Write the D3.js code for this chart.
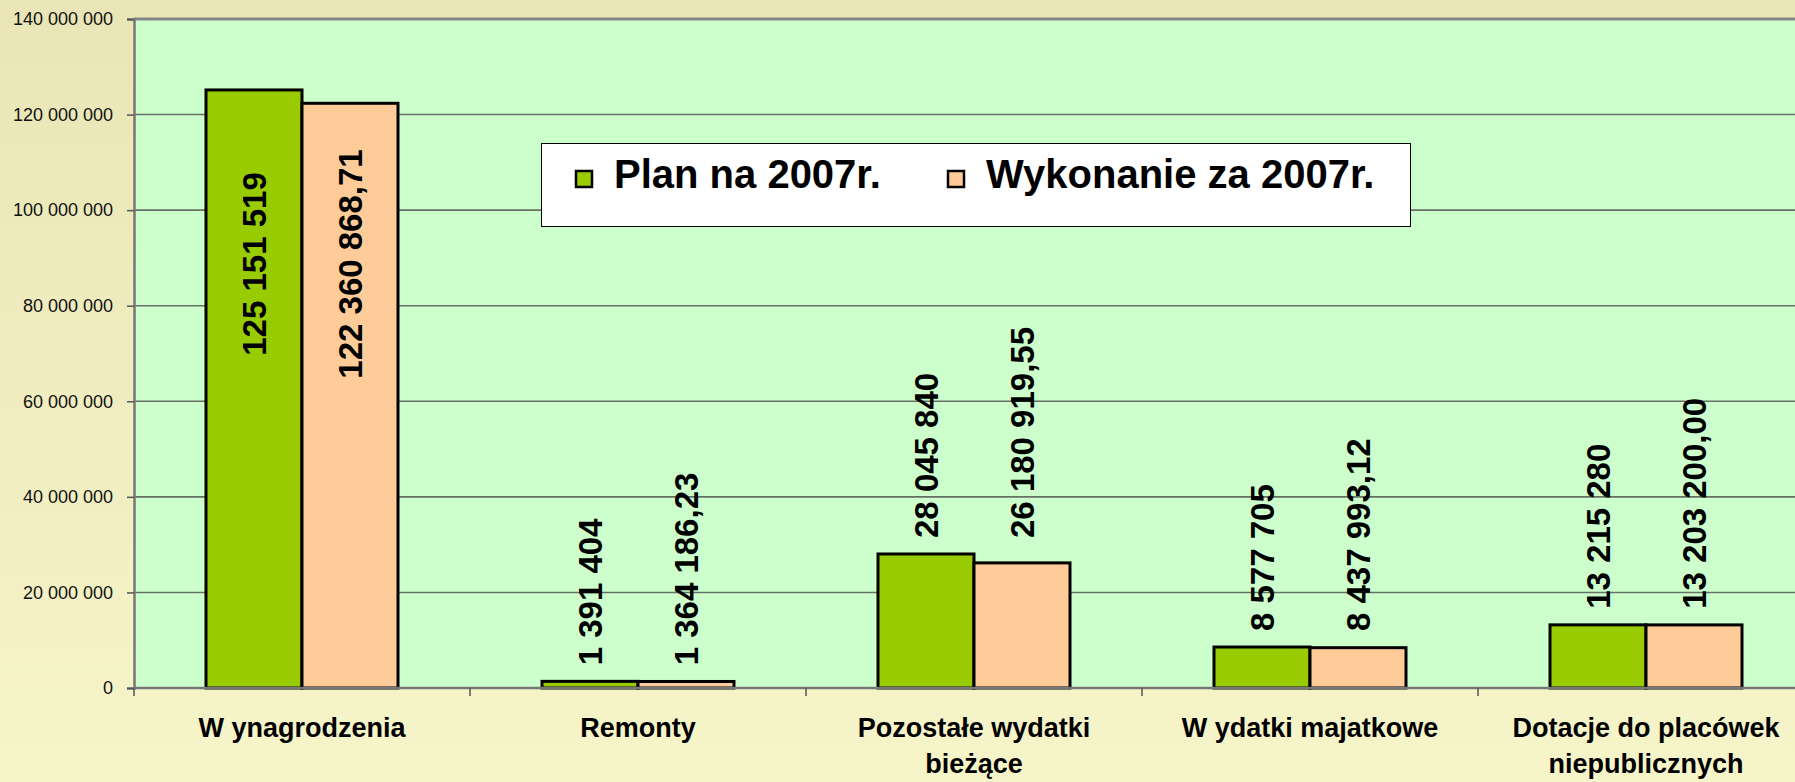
<!DOCTYPE html>
<html>
<head>
<meta charset="utf-8">
<script src="https://cdn.jsdelivr.net/npm/d3@7"></script>
<style>
body { margin: 0; overflow: hidden; }
text { font-family: Arial, "Liberation Sans", sans-serif; }
</style>
</head>
<body>
<script>
// chart data
var categories = ['W ynagrodzenia', 'Remonty', 'Pozostałe wydatki bieżące', 'W ydatki majatkowe', 'Dotacje do placówek niepublicznych']
var categoryLines = [['W ynagrodzenia'], ['Remonty'], ['Pozostałe wydatki', 'bieżące'], ['W ydatki majatkowe'], ['Dotacje do placówek', 'niepublicznych']]
var seriesNames = ['Plan na 2007r.', 'Wykonanie za 2007r.']
var planValues = [125151519, 1391404, 28045840, 8577705, 13215280]
var wykonanieValues = [122360868.71, 1364186.23, 26180919.55, 8437993.12, 13203200.00]
var yTicks = [0, 20000000, 40000000, 60000000, 80000000, 100000000, 120000000, 140000000]

var width = 1795
var height = 782
var plot = {left: 134, top: 19, bottom: 688, right: 1814}
var colors = ['#99cc00', '#ffcc99']

var pl = d3.formatLocale({decimal: ',', thousands: '\u00a0', grouping: [3], currency: ['', '']})
var fmtInt = pl.format(',.0f')
var fmtDec = pl.format(',.2f')

var svg = d3.select('body').append('svg')
	.attr('width', width)
	.attr('height', height)

// background gradient
var grad = svg.append('defs').append('linearGradient')
	.attr('id', 'bg')
	.attr('x1', 0).attr('y1', 0).attr('x2', 0).attr('y2', 1)
grad.append('stop').attr('offset', '0%').attr('stop-color', '#e9e5b6')
grad.append('stop').attr('offset', '100%').attr('stop-color', '#f6f5c9')

svg.append('rect')
	.attr('width', width)
	.attr('height', height)
	.attr('fill', 'url(#bg)')

var y = d3.scaleLinear()
	.domain([0, 140000000])
	.range([plot.bottom, plot.top])

var x = d3.scaleBand()
	.domain(categories)
	.range([plot.left, plot.right])

var xInner = d3.scaleBand()
	.domain([0, 1])
	.range([0, x.bandwidth()])
	.paddingOuter(0.75)

// plot area
svg.append('rect')
	.attr('x', plot.left)
	.attr('y', plot.top)
	.attr('width', plot.right - plot.left)
	.attr('height', plot.bottom - plot.top)
	.attr('fill', '#ccffcc')

// gridlines
svg.append('g').selectAll('line')
	.data(yTicks.slice(1, -1))
	.enter().append('line')
		.attr('x1', plot.left)
		.attr('x2', plot.right)
		.attr('y1', function(d) { return y(d) })
		.attr('y2', function(d) { return y(d) })
		.attr('stroke', '#667066')
		.attr('stroke-width', 1.6)

// top border of plot
svg.append('line')
	.attr('x1', plot.left).attr('x2', plot.right)
	.attr('y1', plot.top).attr('y2', plot.top)
	.attr('stroke', '#858585')
	.attr('stroke-width', 3)

// y axis
var yAxis = svg.append('g')
	.attr('transform', 'translate(' + plot.left + ',0)')
	.call(d3.axisLeft(y).tickValues(yTicks).tickSize(7).tickPadding(14).tickFormat(fmtInt))
yAxis.select('.domain').attr('stroke', '#777').attr('stroke-width', 2.5)
yAxis.selectAll('.tick line').attr('stroke', '#555').attr('stroke-width', 1.5)
yAxis.selectAll('.tick text')
	.attr('font-size', 18)
	.attr('fill', '#111')
	.style('font-family', 'Arial, "Liberation Sans", sans-serif')

// bars
var rows = categories.map(function(c, i) { return {cat: c, values: [planValues[i], wykonanieValues[i]]} })

var groups = svg.append('g').selectAll('g')
	.data(rows)
	.enter().append('g')
		.attr('transform', function(d) { return 'translate(' + x(d.cat) + ',0)' })

groups.selectAll('rect')
	.data(function(d) { return d.values })
	.enter().append('rect')
		.attr('x', function(d, i) { return xInner(i) })
		.attr('y', function(d) { return y(d) })
		.attr('width', xInner.bandwidth())
		.attr('height', function(d) { return y(0) - y(d) })
		.attr('fill', function(d, i) { return colors[i] })
		.attr('stroke', '#000')
		.attr('stroke-width', 3)

// value labels (rotated)
groups.each(function(d) {
	var g = d3.select(this)
	var top = y(d3.max(d.values))
	var inside = top < 200
	d.values.forEach(function(v, i) {
		var cx = xInner(i) + xInner.bandwidth() / 2
		var cy = inside ? 264 : top - 16
		g.append('text')
			.attr('transform', 'translate(' + cx + ',' + cy + ') rotate(-90)')
			.attr('text-anchor', inside ? 'middle' : 'start')
			.attr('dy', '0.36em')
			.attr('font-size', 33)
			.attr('font-weight', 'bold')
			.text(i === 0 ? fmtInt(v) : fmtDec(v))
	})
})

// x axis
svg.append('line')
	.attr('x1', plot.left).attr('x2', plot.right)
	.attr('y1', plot.bottom).attr('y2', plot.bottom)
	.attr('stroke', '#777')
	.attr('stroke-width', 2.5)

svg.append('g').selectAll('line')
	.data(categories)
	.enter().append('line')
		.attr('x1', function(d) { return x(d) })
		.attr('x2', function(d) { return x(d) })
		.attr('y1', plot.bottom)
		.attr('y2', plot.bottom + 8)
		.attr('stroke', '#555')
		.attr('stroke-width', 1.5)

var catLabels = svg.append('g').selectAll('text')
	.data(categories)
	.enter().append('text')
		.attr('x', function(d) { return x(d) + x.bandwidth() / 2 })
		.attr('y', 737)
		.attr('text-anchor', 'middle')
		.attr('font-size', 27)
		.attr('font-weight', 'bold')

catLabels.selectAll('tspan')
	.data(function(d, i) { return categoryLines[i] })
	.enter().append('tspan')
		.attr('x', function() { return d3.select(this.parentNode).attr('x') })
		.attr('dy', function(d, i) { return i === 0 ? 0 : 36 })
		.text(function(d) { return d })

// legend
var legend = svg.append('g')
legend.append('rect')
	.attr('x', 541.5).attr('y', 143.5)
	.attr('width', 869).attr('height', 83)
	.attr('fill', '#fff')
	.attr('stroke', '#000')
	.attr('stroke-width', 1)

var legendX = [576, 948]
seriesNames.forEach(function(name, i) {
	legend.append('rect')
		.attr('x', legendX[i]).attr('y', 171)
		.attr('width', 16).attr('height', 16)
		.attr('fill', colors[i])
		.attr('stroke', '#000')
		.attr('stroke-width', 2.5)
	legend.append('text')
		.attr('x', legendX[i] + 38)
		.attr('y', 188)
		.attr('font-size', 40)
		.attr('font-weight', 'bold')
		.text(name)
})
</script>
</body>
</html>
